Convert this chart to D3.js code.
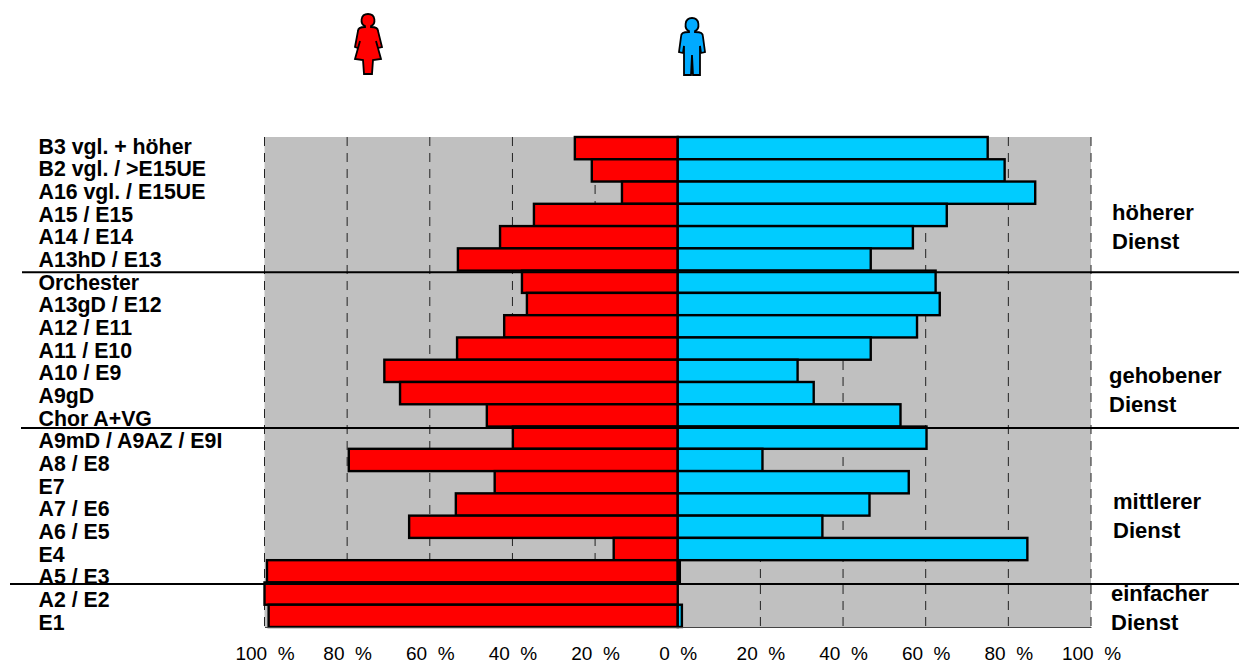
<!DOCTYPE html>
<html lang="de">
<head>
<meta charset="UTF-8">
<script src="https://cdn.jsdelivr.net/npm/d3@7/dist/d3.min.js"></script>
<style>
  body { margin: 0; background: #fff; }
  svg { display: block; font-family: "Liberation Sans", Arial, sans-serif; }
  .cat { font-size: 21.3px; font-weight: bold; fill: #000; }
  .group { font-size: 22px; font-weight: bold; fill: #000; }
  .tick text { font-size: 19px; fill: #000; white-space: pre; }
</style>
</head>
<body>
<svg id="chart" width="1239" height="664"></svg>
<script>
const categories = ["B3 vgl. + höher", "B2 vgl. / >E15UE", "A16 vgl. / E15UE", "A15 / E15", "A14 / E14", "A13hD / E13",
  "Orchester", "A13gD / E12", "A12 / E11", "A11 / E10", "A10 / E9", "A9gD", "Chor A+VG",
  "A9mD / A9AZ / E9I", "A8 / E8", "E7", "A7 / E6", "A6 / E5", "E4", "A5 / E3", "A2 / E2", "E1"];
const women = [24.9, 20.8, 13.5, 34.8, 43, 53.2, 37.7, 36.5, 42, 53.4, 71, 67.2, 46.2, 39.9, 79.6, 44.3, 53.7, 65, 15.5, 99.4, 100, 99];
const men = [75, 79.1, 86.5, 65.1, 56.9, 46.7, 62.4, 63.4, 57.9, 46.7, 29, 32.9, 53.9, 60.2, 20.5, 55.9, 46.4, 35, 84.6, 0.5, 0, 1];
const tickValues = [-100, -80, -60, -40, -20, 0, 20, 40, 60, 80, 100];
const groupLabels = [
  { lines: ["höherer", "Dienst"], x: 1112, y: 220 },
  { lines: ["gehobener", "Dienst"], x: 1109, y: 383 },
  { lines: ["mittlerer", "Dienst"], x: 1113, y: 509 },
  { lines: ["einfacher", "Dienst"], x: 1111, y: 601 }
];
const separators = [{ after: 5, x0: 22 }, { after: 12, x0: 21 }, { after: 19, x0: 10 }];

const svg = d3.select("#chart");
const x = d3.scaleLinear().domain([-100, 100]).range([264.5, 1091]);
const y = d3.scaleBand().domain(d3.range(categories.length)).range([137, 627]);
const labelY = d3.scalePoint().domain(d3.range(categories.length)).range([153.5, 629.5]);
const bottom = y.range()[1], top_ = y.range()[0];

// plot background
svg.append("rect").attr("x", x(-100)).attr("y", top_).attr("width", x(100) - x(-100))
  .attr("height", bottom - top_).attr("fill", "#c0c0c0");

// dashed grid
svg.append("g").selectAll("line").data(tickValues.filter(d => d !== 0)).join("line")
  .attr("x1", d => x(d)).attr("x2", d => x(d)).attr("y1", top_).attr("y2", bottom)
  .attr("stroke", "#222").attr("stroke-width", 1).attr("stroke-dasharray", "9,7");

// bars
const bars = svg.append("g").attr("stroke", "#000").attr("stroke-width", 2.4);
bars.selectAll(".w").data(women).join("rect").attr("class", "w")
  .attr("x", d => x(-d)).attr("y", (d, i) => y(i)).attr("width", d => x(0) - x(-d))
  .attr("height", y.bandwidth()).attr("fill", "#ff0000");
bars.selectAll(".m").data(men).join("rect").attr("class", "m")
  .attr("x", x(0)).attr("y", (d, i) => y(i)).attr("width", d => x(d) - x(0))
  .attr("height", y.bandwidth()).attr("fill", "#00ccff");

// bottom axis
const axis = svg.append("g").attr("transform", `translate(0,${bottom})`)
  .call(d3.axisBottom(x).tickValues(tickValues).tickSize(0).tickPadding(19.5)
    .tickFormat(d => Math.abs(d) + "  %"));
axis.select(".domain").attr("stroke", "#444");

// category labels
svg.append("g").selectAll("text").data(categories).join("text")
  .attr("class", "cat").attr("x", 38.5).attr("y", (d, i) => labelY(i)).text(d => d);

// separators
svg.append("g").selectAll("line").data(separators).join("line")
  .attr("x1", d => d.x0).attr("x2", 1239)
  .attr("y1", d => y(d.after) + y.bandwidth() + 1.5).attr("y2", d => y(d.after) + y.bandwidth() + 1.5)
  .attr("stroke", "#000").attr("stroke-width", 2);

// group labels
groupLabels.forEach(g => {
  g.lines.forEach((line, i) => {
    svg.append("text").attr("class", "group").attr("x", g.x).attr("y", g.y + i * 29).text(line);
  });
});

// pictograms
const womanPath = "M-3,-13 C-8,-15 -8,-25 0,-25 C8,-25 8,-15 3,-13 L3,-12 C8,-12 10,-11 10,-8 L14,8 L10,9 L8,2 L13,20 L5,21 L4,35 L-4,35 L-5,21 L-13,20 L-8,2 L-10,9 L-13,8 L-10,-8 C-10,-11 -8,-12 -3,-12 Z";
const manPath = "M-3,-12 C-8,-14 -8,-25 0,-25 C8,-25 8,-14 3,-12 L3,-11 C9,-11 11,-10 11,-6 L13,9 L9,10 L8,3 L8,32 L1,32 L0,12 L-1,32 L-8,32 L-8,3 L-9,10 L-13,9 L-11,-6 C-11,-10 -9,-11 -3,-11 Z";
svg.append("path").attr("d", womanPath).attr("transform", "translate(368,39)")
  .attr("fill", "#ff0000").attr("stroke", "#000").attr("stroke-width", 1.8);
svg.append("path").attr("d", manPath).attr("transform", "translate(692,43)")
  .attr("fill", "#00aaff").attr("stroke", "#000").attr("stroke-width", 1.8);
</script>
</body>
</html>
